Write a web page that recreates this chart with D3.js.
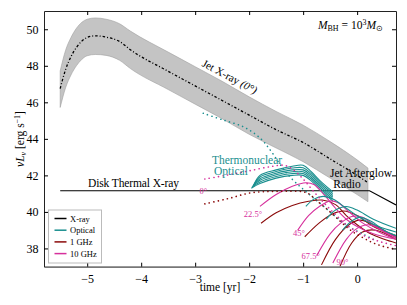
<!DOCTYPE html>
<html>
<head>
<meta charset="utf-8">
<script src="https://cdn.jsdelivr.net/npm/d3@7"></script>
<style>
body { margin:0; background:#fff; }
</style>
</head>
<body>
<div id="chart"></div>
<script>
// jet x-ray band (upper / centre / lower), time in log yr
var bandT   = [-5.5, -5.4, -5.3, -5.2, -5.1, -5.0, -4.85, -4.65, -4.4, -4.2, -3.5, -3.0, -2.5, -2.0, -1.5, -1.0, -0.5, 0.0, 0.2];
var bandMid = [46.75, 47.8, 48.5, 49.0, 49.35, 49.55, 49.64, 49.57, 49.33, 48.88, 47.7, 46.9, 46.1, 45.3, 44.5, 43.8, 42.9, 42.0, 41.6];
var bandHi  = [47.72, 48.85, 49.55, 50.05, 50.38, 50.55, 50.62, 50.55, 50.3, 49.9, 48.75, 47.95, 47.15, 46.3, 45.5, 44.75, 43.85, 42.85, 42.4];
var bandLo  = [45.72, 46.8, 47.5, 48.0, 48.35, 48.55, 48.62, 48.57, 48.3, 47.85, 46.7, 45.9, 45.1, 44.25, 43.5, 42.75, 41.85, 40.95, 40.56];

// disk thermal x-ray
var diskT = [-5.5, 0.23, 0.72];
var diskV = [41.16, 41.16, 40.38];

// on-axis (0 deg) afterglows, dotted
var opt0   = [[-2.85,45.4],[-2.5,45.05],[-2.1,44.65],[-1.8,44.05],[-1.6,43.35],[-1.45,42.7],[-1.3,42.1],[-1.1,41.5],[-0.9,41.0],[-0.7,40.5],[-0.5,40.0],[-0.3,39.5],[-0.1,39.1],[0.1,38.8],[0.3,38.5]];
var ghz10_0 = [[-2.82,41.8],[-2.4,42.02],[-2.0,42.25],[-1.6,42.48],[-1.35,42.55],[-1.2,42.35],[-1.0,41.8],[-0.8,41.1],[-0.6,40.45],[-0.4,39.85],[-0.2,39.3],[0.0,38.9],[0.2,38.6],[0.45,38.35],[0.72,38.15]];
var ghz1_0  = [[-2.82,40.44],[-2.4,40.72],[-1.96,41.05],[-1.5,41.12],[-1.0,41.1],[-0.9,41.0],[-0.7,40.5],[-0.5,40.0],[-0.3,39.45],[-0.1,38.95],[0.1,38.6],[0.3,38.3],[0.5,38.1],[0.72,37.95]];

// thermonuclear optical bundle
var thermo1 = [[-1.96,41.3],[-1.8,41.55],[-1.5,41.85],[-1.2,42.0],[-1.0,42.0],[-0.85,41.7],[-0.65,41.1],[-0.45,40.6]];
var thermo2 = [[-1.95,41.34],[-1.8,41.64],[-1.5,41.94],[-1.2,42.1],[-1.0,42.1],[-0.85,41.8],[-0.65,41.2],[-0.45,40.7]];
var thermo3 = [[-1.94,41.38],[-1.8,41.73],[-1.5,42.03],[-1.2,42.2],[-1.0,42.2],[-0.85,41.9],[-0.65,41.3],[-0.45,40.8]];
var thermo4 = [[-1.93,41.42],[-1.8,41.82],[-1.5,42.12],[-1.2,42.3],[-1.0,42.3],[-0.85,42.0],[-0.65,41.4],[-0.45,40.9]];
var thermo5 = [[-1.92,41.46],[-1.8,41.91],[-1.5,42.21],[-1.2,42.4],[-1.0,42.42],[-0.85,42.1],[-0.65,41.5],[-0.45,41.0]];
var thermo6 = [[-1.91,41.5],[-1.8,42.0],[-1.5,42.3],[-1.2,42.5],[-1.0,42.55],[-0.85,42.2],[-0.65,41.6],[-0.45,41.1]];

// off-axis solid curves
var opt22 = [[-0.95,40.3],[-0.8,40.7],[-0.63,40.85],[-0.45,40.7],[-0.2,40.2],[0.1,39.6],[0.4,39.2],[0.72,38.9]];
var opt45 = [[-0.57,39.6],[-0.4,40.1],[-0.2,40.3],[0.0,40.1],[0.3,39.6],[0.72,39.1]];
var opt67 = [[-0.27,39.0],[-0.1,39.5],[0.05,39.7],[0.25,39.5],[0.5,39.0],[0.72,38.7]];
var g10_22 = [[-1.8,40.3],[-1.5,40.95],[-1.2,41.4],[-0.95,41.6],[-0.8,41.5],[-0.6,40.9],[-0.4,40.2],[-0.2,39.6],[0.0,39.2],[0.3,38.8],[0.72,38.5]];
var g10_45 = [[-1.1,39.0],[-0.9,39.8],[-0.7,40.3],[-0.5,40.6],[-0.35,40.5],[-0.15,40.0],[0.1,39.4],[0.4,38.9],[0.72,38.5]];
var g10_67 = [[-0.75,37.6],[-0.5,38.8],[-0.3,39.4],[-0.1,39.75],[0.1,39.7],[0.3,39.3],[0.5,38.9],[0.72,38.6]];
var g10_90 = [[-0.45,37.2],[-0.2,38.5],[0.0,39.1],[0.2,39.3],[0.4,39.1],[0.6,38.8],[0.72,38.6]];
var g1_22 = [[-1.78,39.38],[-1.5,39.95],[-1.2,40.35],[-0.9,40.58],[-0.65,40.65],[-0.4,40.4],[-0.2,39.8],[0.0,39.3],[0.25,38.8],[0.5,38.5],[0.72,38.3]];
var g1_45 = [[-0.97,38.64],[-0.7,39.4],[-0.45,39.9],[-0.25,40.05],[0.0,39.8],[0.3,39.2],[0.72,38.7]];
var g1_67 = [[-0.66,37.1],[-0.4,38.5],[-0.15,39.3],[0.05,39.55],[0.3,39.3],[0.72,38.6]];
var g1_90 = [[-0.32,37.0],[-0.1,38.3],[0.1,38.9],[0.35,39.0],[0.72,38.5]];

var xTicks = [-5, -4, -3, -2, -1, 0];
var yTicks = [38, 40, 42, 44, 46, 48, 50];
var legendNames = ["X-ray", "Optical", "1 GHz", "10 GHz"];
var angleLabels = ["0\u00B0", "22.5\u00B0", "45\u00B0", "67.5\u00B0", "90\u00B0"];
var angleX = [-2.92, -2.1, -1.19, -1.03, -0.38];
var angleY = [40.96, 39.72, 38.68, 37.4, 37.07];

var teal = "#1a8f8f", darkred = "#8b0a0a", pink = "#d6309c";
var legendColors = ["#000", teal, darkred, pink];
var serif = "'Liberation Serif', 'Times New Roman', serif";

var w = 407, h = 305;
var margin = {top: 11, right: 11, bottom: 38.3, left: 44};
var svg = d3.select("#chart").append("svg").attr("width", w).attr("height", h)
  .style("font-family", serif);

var x = d3.scaleLinear().domain([-5.8, 0.72]).range([margin.left, w - margin.right]);
var y = d3.scaleLinear().domain([37, 51]).range([h - margin.bottom, margin.top]);

svg.append("defs").append("clipPath").attr("id", "clip")
  .append("rect").attr("x", margin.left).attr("y", margin.top)
  .attr("width", w - margin.left - margin.right).attr("height", h - margin.top - margin.bottom);
var plot = svg.append("g").attr("clip-path", "url(#clip)");

// band
var area = d3.area().x(function(d){ return x(d.t); }).y0(function(d){ return y(d.lo); }).y1(function(d){ return y(d.hi); }).curve(d3.curveMonotoneX);
var bandData = bandT.map(function(t, i){ return {t: t, lo: bandLo[i], hi: bandHi[i], mid: bandMid[i]}; });
plot.append("path").datum(bandData).attr("d", area)
  .attr("fill", "#c4c4c4").attr("stroke", "#a0a0a0").attr("stroke-width", 0.6);
plot.append("path").datum(bandData)
  .attr("d", d3.line().x(function(d){ return x(d.t); }).y(function(d){ return y(d.mid); }).curve(d3.curveMonotoneX))
  .attr("fill", "none").attr("stroke", "#000").attr("stroke-width", 1.3).attr("stroke-dasharray", "2.5,2,1,2");

// disk
plot.append("path").datum(diskT.map(function(t, i){ return [t, diskV[i]]; }))
  .attr("d", d3.line().x(function(d){ return x(d[0]); }).y(function(d){ return y(d[1]); }))
  .attr("fill", "none").attr("stroke", "#000").attr("stroke-width", 1.1);

var curve = d3.line().x(function(d){ return x(d[0]); }).y(function(d){ return y(d[1]); }).curve(d3.curveCatmullRom);

var solids = [
  [thermo1, teal], [thermo2, teal], [thermo3, teal], [thermo4, teal], [thermo5, teal], [thermo6, teal],
  [g1_22, darkred], [g1_45, darkred], [g1_67, darkred], [g1_90, darkred],
  [g10_22, pink], [g10_45, pink], [g10_67, pink], [g10_90, pink],
  [opt22, teal], [opt45, teal], [opt67, teal]
];
solids.forEach(function(s){
  plot.append("path").datum(s[0]).attr("d", curve)
    .attr("fill", "none").attr("stroke", s[1]).attr("stroke-width", 1.1);
});

var dotted = [[opt0, teal], [ghz10_0, pink], [ghz1_0, darkred]];
dotted.forEach(function(s){
  plot.append("path").datum(s[0]).attr("d", curve)
    .attr("fill", "none").attr("stroke", s[1]).attr("stroke-width", 1.6)
    .attr("stroke-linecap", "round").attr("stroke-dasharray", "0.1,4.5");
});

// axes
var xAxis = d3.axisBottom(x).tickValues(xTicks).tickSizeInner(-4).tickSizeOuter(0)
  .tickFormat(function(d){ return d < 0 ? "\u2212" + Math.abs(d) : d; });
var gx = svg.append("g").attr("transform", "translate(0," + (h - margin.bottom) + ")").call(xAxis);
gx.selectAll("text").attr("dy", "1.1em");
var gxt = svg.append("g").attr("transform", "translate(0," + margin.top + ")")
  .call(d3.axisTop(x).tickValues(xTicks).tickSizeInner(-4).tickSizeOuter(0).tickFormat(""));
var yAxis = d3.axisLeft(y).tickValues(yTicks).tickSizeInner(-4).tickSizeOuter(0);
var gy = svg.append("g").attr("transform", "translate(" + margin.left + ",0)").call(yAxis);
gy.selectAll("text").attr("dx", "-0.2em");
var gyr = svg.append("g").attr("transform", "translate(" + (w - margin.right) + ",0)")
  .call(d3.axisRight(y).tickValues(yTicks).tickSizeInner(-4).tickSizeOuter(0).tickFormat(""));
[gx, gxt, gy, gyr].forEach(function(g){
  g.attr("font-family", null).attr("font-size", 12);
  g.select(".domain").attr("stroke", "#222");
  g.selectAll("text").style("font-family", serif).attr("fill", "#000");
});
gx.select(".domain").attr("stroke", "#777").attr("stroke-width", 1.8);

svg.append("text").attr("x", 220).attr("y", 291).attr("text-anchor", "middle")
  .attr("font-size", 11.5).text("time [yr]");
var yl = svg.append("text").attr("transform", "translate(24,139) rotate(-90)")
  .attr("text-anchor", "middle").attr("font-size", 11.5);
yl.append("tspan").attr("font-style", "italic").text("\u03BDL");
yl.append("tspan").attr("font-style", "italic").attr("font-size", 8).attr("dy", 2).text("\u03BD");
yl.append("tspan").attr("dy", -2).text(" [erg s");
yl.append("tspan").attr("font-size", 8).attr("dy", -4).text("\u22121");
yl.append("tspan").attr("dy", 4).text("]");

// annotations
var mb = svg.append("text").attr("x", 383).attr("y", 29).attr("text-anchor", "end").attr("font-size", 11.5);
mb.append("tspan").attr("font-style", "italic").text("M");
mb.append("tspan").attr("font-size", 8).attr("dy", 2).text("BH");
mb.append("tspan").attr("dy", -2).text(" = 10");
mb.append("tspan").attr("font-size", 8).attr("dy", -4).text("3");
mb.append("tspan").attr("dy", 4).attr("font-style", "italic").text("M");
mb.append("tspan").attr("font-size", 8).attr("dy", 2).text("\u2299");

var jt = svg.append("text").attr("transform", "translate(228,80) rotate(28)")
  .attr("text-anchor", "middle").attr("font-size", 11);
jt.append("tspan").text("Jet X-ray ");
jt.append("tspan").attr("font-style", "italic").text("(0\u00B0)");

svg.append("text").attr("x", 88).attr("y", 187).attr("font-size", 11.5).attr("textLength", 91).text("Disk Thermal X-ray");
svg.append("text").attr("x", 247).attr("y", 164).attr("text-anchor", "middle").attr("font-size", 11.5).attr("fill", teal).text("Thermonuclear");
svg.append("text").attr("x", 231).attr("y", 175).attr("text-anchor", "middle").attr("font-size", 11.5).attr("fill", teal).text("Optical");
svg.append("text").attr("x", 361).attr("y", 177).attr("text-anchor", "middle").attr("font-size", 11.5).text("Jet Afterglow");
svg.append("text").attr("x", 347).attr("y", 188).attr("text-anchor", "middle").attr("font-size", 11.5).text("Radio");

angleLabels.forEach(function(l, i){
  svg.append("text").attr("x", x(angleX[i])).attr("y", y(angleY[i]))
    .attr("font-size", 8.5).attr("fill", pink).text(l);
});

// legend
var lg = svg.append("g").attr("transform", "translate(48.5,210)");
lg.append("rect").attr("width", 53).attr("height", 53).attr("fill", "#fff").attr("stroke", "#bbb");
legendNames.forEach(function(n, i){
  var yy = 8.5 + i * 11.7;
  lg.append("line").attr("x1", 6).attr("x2", 18).attr("y1", yy).attr("y2", yy)
    .attr("stroke", legendColors[i]).attr("stroke-width", 1.5);
  lg.append("text").attr("x", 21.5).attr("y", yy + 3).attr("font-size", 8.5).text(n);
});
</script>
</body>
</html>
